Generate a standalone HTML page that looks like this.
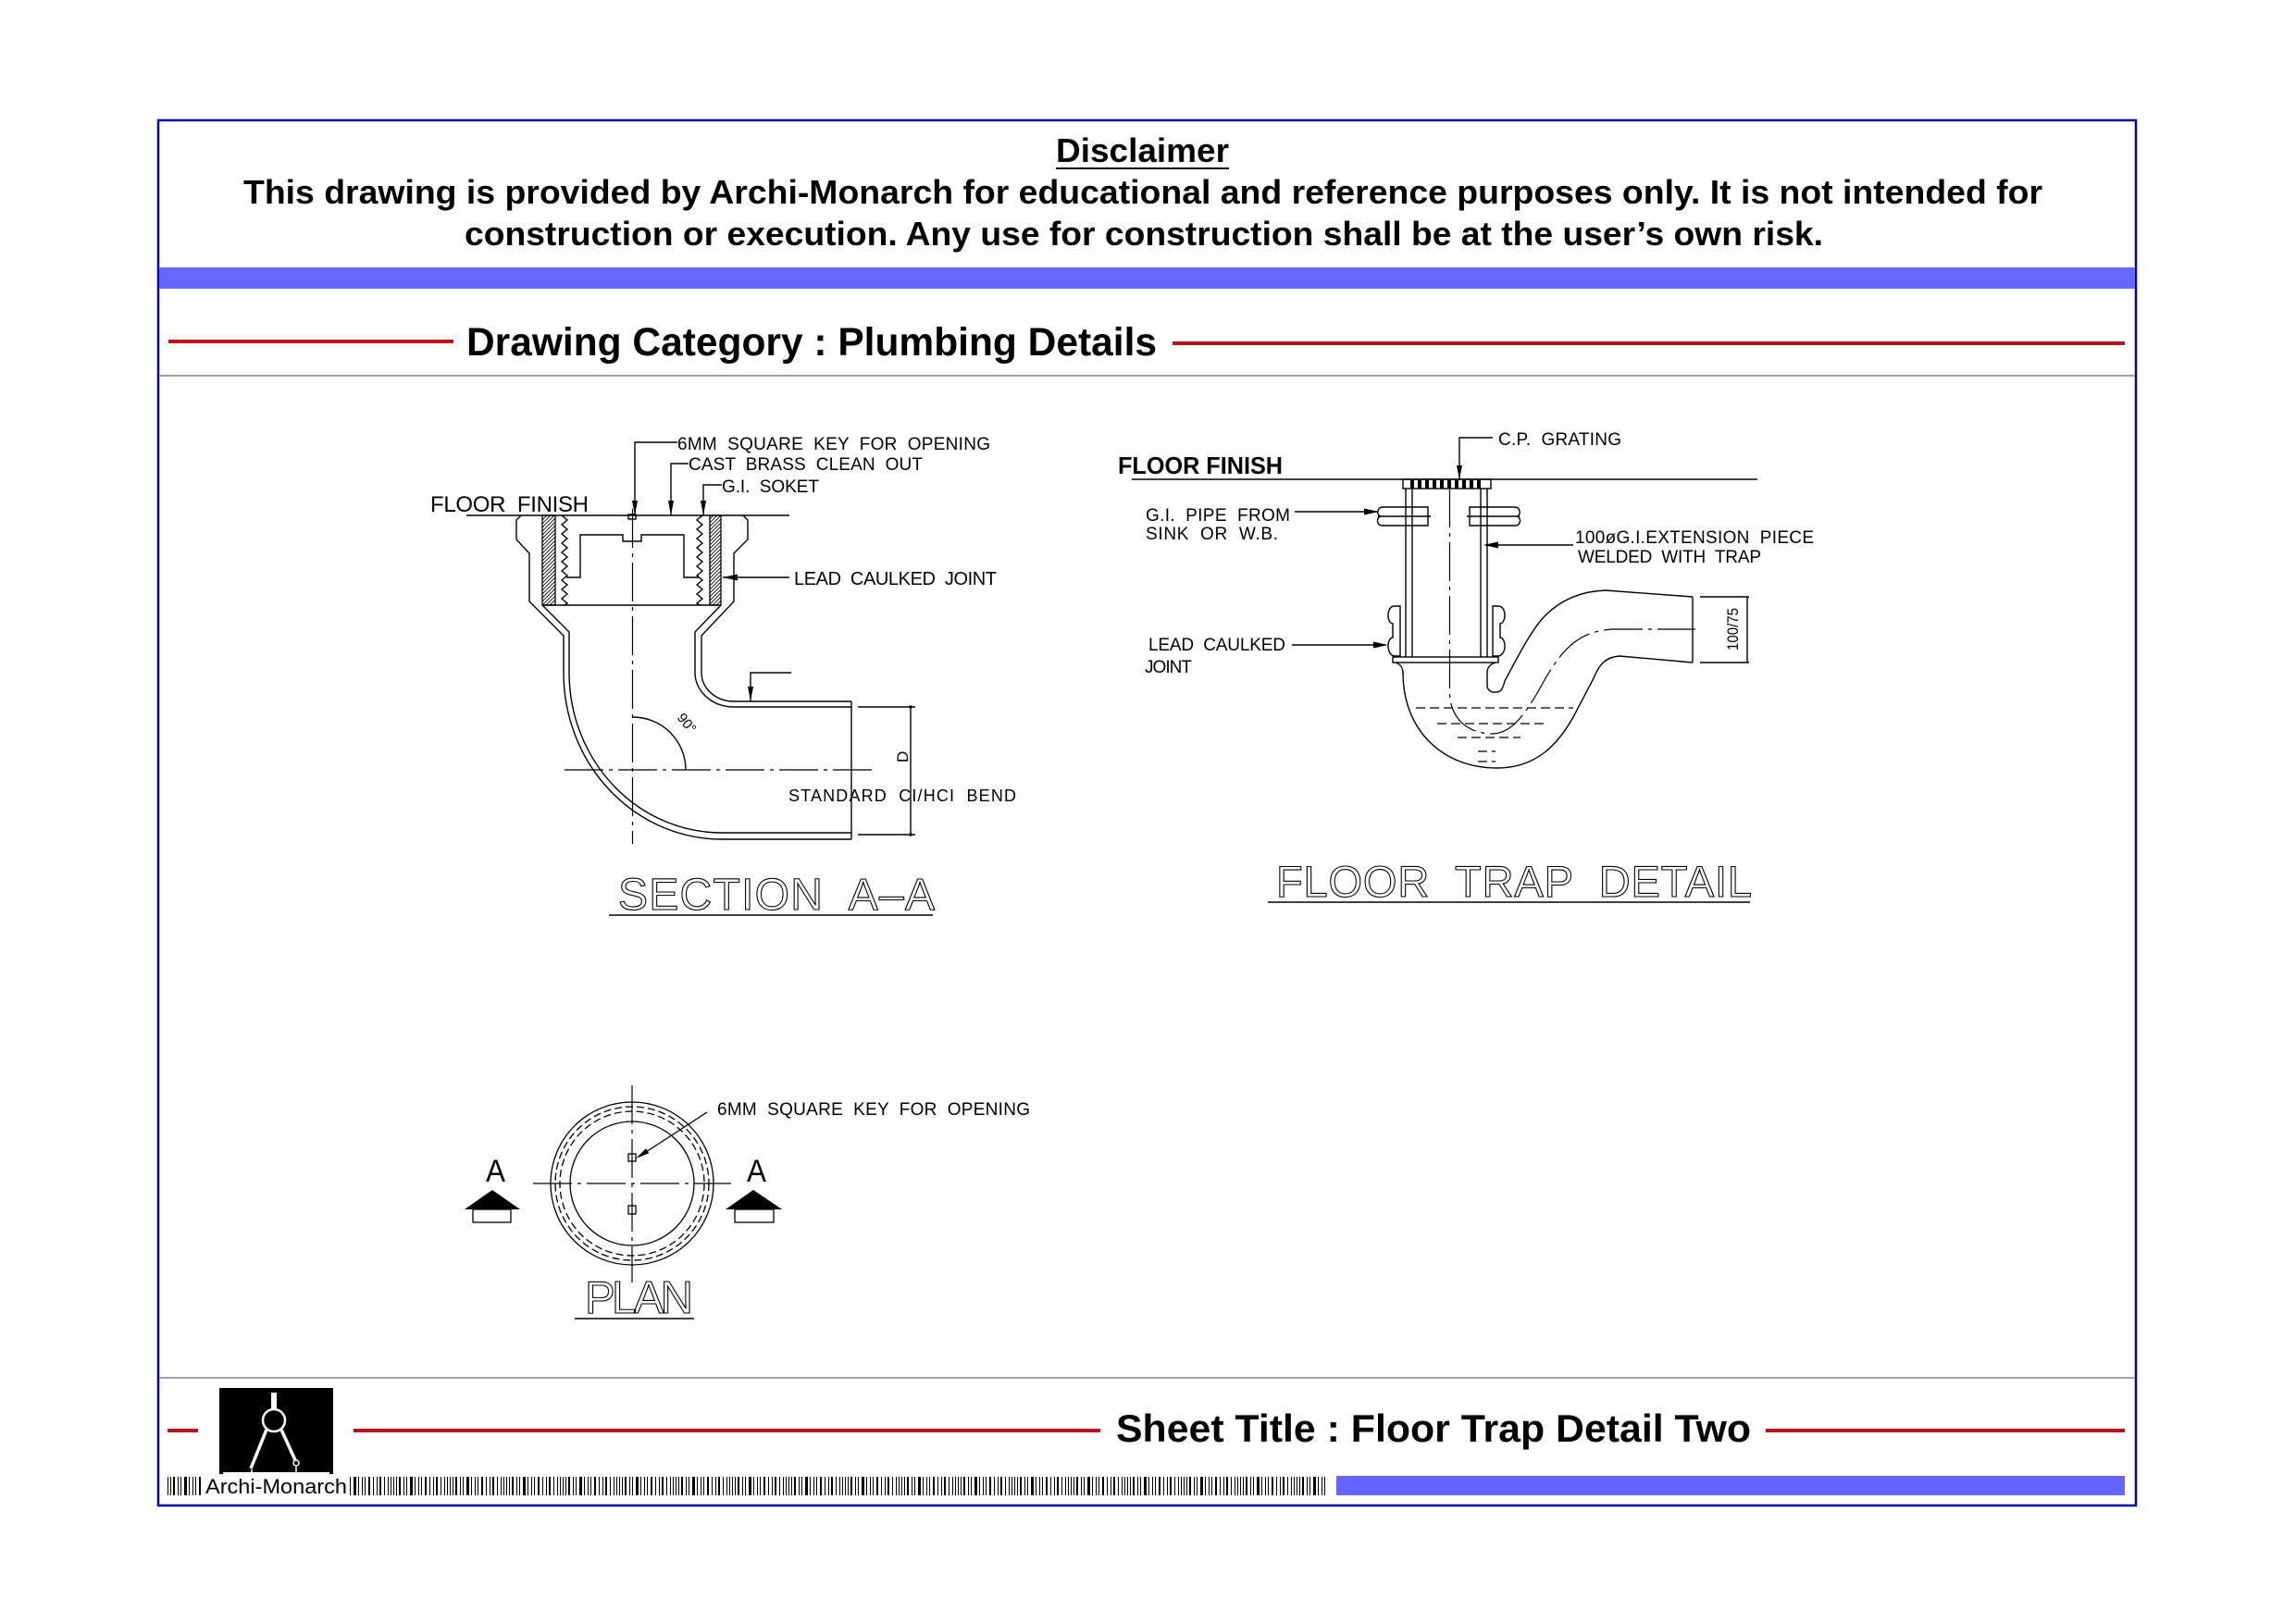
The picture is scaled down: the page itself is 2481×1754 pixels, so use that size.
<!DOCTYPE html>
<html>
<head>
<meta charset="utf-8">
<style>
html,body{margin:0;padding:0;background:#fff;}
body{width:2481px;height:1754px;overflow:hidden;}
svg{display:block;}
.b{font-family:"Liberation Sans",Arial,sans-serif;font-weight:bold;fill:#000;}
.c{font-family:"Liberation Sans",Arial,sans-serif;font-weight:normal;fill:#000;white-space:pre;}
.t{font-family:"Liberation Sans",Arial,sans-serif;font-weight:normal;fill:none;stroke:#000;stroke-width:1.1;white-space:pre;}
</style>
</head>
<body>
<svg width="2481" height="1754" viewBox="0 0 2481 1754" xmlns="http://www.w3.org/2000/svg">
<defs>
  <pattern id="hatch" patternUnits="userSpaceOnUse" width="4" height="4">
    <path d="M-1 1 L1 -1 M0 4 L4 0 M3 5 L5 3" stroke="#000" stroke-width="0.9"/>
  </pattern>
  <pattern id="bc" patternUnits="userSpaceOnUse" x="181" y="0" width="61" height="40">
    <rect x="0" y="0" width="1" height="40" fill="#000"/>
    <rect x="3" y="0" width="1" height="40" fill="#000"/>
    <rect x="6" y="0" width="2" height="40" fill="#000"/>
    <rect x="11" y="0" width="1" height="40" fill="#000"/>
    <rect x="14" y="0" width="1" height="40" fill="#000"/>
    <rect x="18" y="0" width="3" height="40" fill="#000"/>
    <rect x="23" y="0" width="1" height="40" fill="#000"/>
    <rect x="27" y="0" width="1" height="40" fill="#000"/>
    <rect x="30" y="0" width="1" height="40" fill="#000"/>
    <rect x="34" y="0" width="2" height="40" fill="#000"/>
    <rect x="39" y="0" width="1" height="40" fill="#000"/>
    <rect x="43" y="0" width="1" height="40" fill="#000"/>
    <rect x="46" y="0" width="2" height="40" fill="#000"/>
    <rect x="51" y="0" width="1" height="40" fill="#000"/>
    <rect x="55" y="0" width="1" height="40" fill="#000"/>
    <rect x="58" y="0" width="1" height="40" fill="#000"/>
  </pattern>
</defs>

<!-- Frame -->
<rect x="171" y="130" width="2137" height="1497" fill="none" stroke="#0000b0" stroke-width="2.5"/>

<!-- Disclaimer -->
<text class="b" x="1141" y="175" font-size="36" textLength="187" lengthAdjust="spacingAndGlyphs">Disclaimer</text>
<line x1="1141" y1="182" x2="1328" y2="182" stroke="#000" stroke-width="2"/>
<text class="b" x="263" y="220" font-size="36" textLength="1944" lengthAdjust="spacingAndGlyphs">This drawing is provided by Archi-Monarch for educational and reference purposes only. It is not intended for</text>
<text class="b" x="502" y="265" font-size="36" textLength="1468" lengthAdjust="spacingAndGlyphs">construction or execution. Any use for construction shall be at the user’s own risk.</text>

<!-- Blue band -->
<rect x="172" y="289" width="2135" height="23" fill="#6868ff"/>

<!-- Drawing category -->
<line x1="182" y1="369" x2="490" y2="369" stroke="#c0101a" stroke-width="4"/>
<text class="b" x="504" y="384" font-size="43" textLength="746" lengthAdjust="spacingAndGlyphs">Drawing Category : Plumbing Details</text>
<line x1="1267" y1="371" x2="2296" y2="371" stroke="#c0101a" stroke-width="4"/>
<line x1="172" y1="406" x2="2307" y2="406" stroke="#a0a0a0" stroke-width="2"/>

<!-- ================= SECTION A-A ================= -->
<g fill="none" stroke="#000" stroke-width="1.4">
  <path d="M504 557 H853"/>
  <path d="M563 557 L558 562 V583 L572 598 V650 L609 687 V727 A171 180 0 0 0 780 907 H920"/>
  <path d="M586 654 L615 683 V727 A165 173 0 0 0 780 900 H920"/>
  <path d="M803 557 L808 562 V583 L793 598 V650 L758 687 V727 A35 31 0 0 0 793 758 H920"/>
  <path d="M779 654 L751 683 V727 A42 37 0 0 0 793 764 H920"/>
  <path d="M920 758 V907"/>
  <path d="M586 654 H779"/>
  <path d="M607 557 L613 562 L607 567 L613 572 L607 577 L613 582 L607 587 L613 592 L607 597 L613 602 L607 607 L613 612 L607 617 L613 622 L607 627 L613 632 L607 637 L613 642 L607 647 L613 652 L610 654"/>
  <path d="M759 557 L753 562 L759 567 L753 572 L759 577 L753 582 L759 587 L753 592 L759 597 L753 602 L759 607 L753 612 L759 617 L753 622 L759 627 L753 632 L759 637 L753 642 L759 647 L753 652 L756 654"/>
  <path d="M612 624 H627 V578 H673 V585 H693 V578 H739 V624 H755"/>
  <rect x="679" y="556" width="8" height="5"/>
  <path d="M684 775 A57 57 0 0 1 741 832"/>
  <path d="M927 764 H989 M927 902 H989 M984 764 V902"/>
  <path d="M732 478 H686 V557 M744 501 H725 V557 M780 524 H760 V557 M853 624 H781 M855 727 H811 V758"/>
</g>
<rect x="586" y="557" width="14" height="97" fill="url(#hatch)" stroke="#000" stroke-width="1.3"/>
<rect x="767" y="557" width="12" height="97" fill="url(#hatch)" stroke="#000" stroke-width="1.3"/>
<g fill="none" stroke="#000" stroke-width="1.2" stroke-dasharray="42 6 4 6">
  <path d="M683.5 550 V912"/>
  <path d="M610 832 H948"/>
</g>
<g fill="#000">
  <polygon points="683,541 689,541 686,557"/>
  <polygon points="722,541 728,541 725,557"/>
  <polygon points="757,541 763,541 760,557"/>
  <polygon points="781,624 797,620.5 797,627.5"/>
  <polygon points="808,742 814,742 811,758"/>
  <circle cx="984" cy="764" r="1.8"/>
  <circle cx="984" cy="902" r="1.8"/>
</g>
<text class="c" x="0" y="0" font-size="15" transform="translate(731,776) rotate(50)">90°</text>
<text class="c" x="0" y="0" font-size="17" transform="translate(981,824) rotate(-90)">D</text>
<text class="c" x="732" y="486" font-size="19" textLength="338" lengthAdjust="spacing">6MM  SQUARE  KEY  FOR  OPENING</text>
<text class="c" x="744" y="508" font-size="19" textLength="253" lengthAdjust="spacing">CAST  BRASS  CLEAN  OUT</text>
<text class="c" x="780" y="532" font-size="19" textLength="105" lengthAdjust="spacing">G.I.  SOKET</text>
<text class="c" x="465" y="553" font-size="24" textLength="171" lengthAdjust="spacing">FLOOR  FINISH</text>
<text class="c" x="858" y="632" font-size="20" textLength="219" lengthAdjust="spacing">LEAD  CAULKED  JOINT</text>
<text class="c" x="852" y="866" font-size="18" textLength="246" lengthAdjust="spacing">STANDARD  CI/HCI  BEND</text>
<text class="t" x="668" y="983" font-size="48" textLength="342" lengthAdjust="spacing">SECTION  A–A</text>
<line x1="658" y1="989" x2="1008" y2="989" stroke="#000" stroke-width="1.6"/>

<!-- ================= FLOOR TRAP DETAIL ================= -->
<text class="b" x="1208" y="512" font-size="26" textLength="178" lengthAdjust="spacingAndGlyphs">FLOOR FINISH</text>
<text class="c" x="1619" y="481" font-size="19" textLength="133" lengthAdjust="spacing">C.P.  GRATING</text>
<text class="c" x="1238" y="563" font-size="19" textLength="156" lengthAdjust="spacing">G.I.  PIPE  FROM</text>
<text class="c" x="1238" y="583" font-size="19" textLength="143" lengthAdjust="spacing">SINK  OR  W.B.</text>
<text class="c" x="1702" y="587" font-size="19" textLength="258" lengthAdjust="spacing">100øG.I.EXTENSION  PIECE</text>
<text class="c" x="1705" y="608" font-size="19" textLength="198" lengthAdjust="spacing">WELDED  WITH  TRAP</text>
<text class="c" x="1241" y="703" font-size="19" textLength="148" lengthAdjust="spacing">LEAD  CAULKED</text>
<text class="c" x="1237" y="727" font-size="19" textLength="51" lengthAdjust="spacing">JOINT</text>
<text class="c" x="0" y="0" font-size="17" textLength="46" lengthAdjust="spacingAndGlyphs" transform="translate(1878,703) rotate(-90)">100/75</text>

<g fill="none" stroke="#000" stroke-width="1.4">
  <path d="M1223 518 H1899"/>
  <rect x="1516" y="518" width="95" height="10"/>
  <path d="M1613 473 H1577 V518"/>
  <path d="M1519 528 V710 M1526 528 V710 M1600 528 V710 M1607 528 V710"/>
  <path d="M1543 548 H1494 C1488 548,1487 557,1492 558 C1487 559,1487 568,1494 568 H1543 Z M1489 558 H1546"/>
  <path d="M1588 548 H1637 C1643 548,1644 557,1639 558 C1644 559,1644 568,1637 568 H1588 Z M1585 558 H1642"/>
  <path d="M1399 553 H1488 M1700 589 H1605"/>
  <path d="M1513 655 H1507 C1498 655,1498 673,1505 674 V689 C1498 690,1498 708,1507 709 H1513 Z"/>
  <path d="M1613 655 H1619 C1628 655,1628 673,1621 674 V689 C1628 690,1628 708,1619 709 H1613 Z"/>
  <path d="M1396 697 H1496"/>
  <rect x="1505" y="710" width="114" height="6"/>
  <path d="M1508 716 C1514 718,1516 722,1516 728"/>
  <path d="M1616 716 C1609 718,1607 722,1607 727"/>
  <path d="M1516 727 C1516 790,1560 830,1617 830 C1660 830,1683 805,1700 775 L1722 733 C1728 718,1735 710,1750 709 L1829 716"/>
  <path d="M1607 727 V741 C1607 746,1612 749,1617 748 C1622 748,1624 744,1626 736 C1640 710,1655 680,1670 665 C1685 650,1705 639,1735 638 L1829 645"/>
  <path d="M1829 645 V716"/>
  <path d="M1837 645 H1890 M1837 716 H1890 M1888 645 V716"/>
</g>
<g fill="#000">
  <rect x="1524" y="519" width="4" height="9"/>
  <rect x="1532" y="519" width="4" height="9"/>
  <rect x="1540" y="519" width="4" height="9"/>
  <rect x="1548" y="519" width="4" height="9"/>
  <rect x="1556" y="519" width="4" height="9"/>
  <rect x="1564" y="519" width="4" height="9"/>
  <rect x="1572" y="519" width="4" height="9"/>
  <rect x="1580" y="519" width="4" height="9"/>
  <rect x="1588" y="519" width="4" height="9"/>
  <rect x="1596" y="519" width="4" height="9"/>
  <polygon points="1574,503 1580,503 1577,518"/>
  <polygon points="1490,553 1474,549.5 1474,556.5"/>
  <polygon points="1603,589 1619,585.5 1619,592.5"/>
  <polygon points="1500,697 1484,693.5 1484,700.5"/>
</g>
<g fill="none" stroke="#000" stroke-width="1.2">
  <path stroke-dasharray="42 6 4 6" d="M1566.5 528 V747 C1566 775,1585 793,1613 793 C1635 792,1650 770,1670 733 C1690 700,1705 683,1742 680 H1832"/>
  <path stroke-dasharray="10 5" d="M1530 765 H1700 M1553 782 H1673 M1575 797 H1643 M1597 812 H1616 M1597 823 H1616"/>
</g>
<text class="t" x="1379" y="969" font-size="47" textLength="514" lengthAdjust="spacing">FLOOR  TRAP  DETAIL</text>
<line x1="1370" y1="975" x2="1891" y2="975" stroke="#000" stroke-width="1.6"/>

<!-- ================= PLAN ================= -->
<g fill="none" stroke="#000" stroke-width="1.3">
  <circle cx="683" cy="1279" r="88"/>
  <circle cx="683" cy="1279" r="83" stroke-dasharray="8 4"/>
  <circle cx="683" cy="1279" r="78" stroke-dasharray="8 4"/>
  <circle cx="683" cy="1279" r="67"/>
  <rect x="679" y="1247" width="8" height="8"/>
  <rect x="679" y="1303" width="8" height="9"/>
  <path d="M764 1202 L698 1245"/>
  <rect x="511" y="1307" width="41" height="14"/>
  <rect x="794" y="1307" width="42" height="14"/>
</g>
<g fill="none" stroke="#000" stroke-width="1.2" stroke-dasharray="42 6 4 6">
  <path d="M683 1173 V1386"/>
  <path d="M576 1279 H790"/>
</g>
<g fill="#000">
  <polygon points="687,1252 701.2,1246.3 698,1241.3"/>
  <polygon points="502,1307 532,1286 562,1307"/>
  <polygon points="784,1307 814,1286 845,1307"/>
</g>
<text class="c" x="775" y="1205" font-size="19" textLength="338" lengthAdjust="spacing">6MM  SQUARE  KEY  FOR  OPENING</text>
<text class="c" x="525" y="1277" font-size="34" textLength="21" lengthAdjust="spacingAndGlyphs">A</text>
<text class="c" x="807" y="1277" font-size="34" textLength="21" lengthAdjust="spacingAndGlyphs">A</text>
<text class="t" x="632" y="1419" font-size="49" textLength="117" lengthAdjust="spacing">PLAN</text>
<line x1="621" y1="1425" x2="750" y2="1425" stroke="#000" stroke-width="1.6"/>

<!-- ================= FOOTER ================= -->
<line x1="172" y1="1489" x2="2307" y2="1489" stroke="#a0a0a0" stroke-width="2"/>
<line x1="181" y1="1546" x2="214" y2="1546" stroke="#c0101a" stroke-width="4"/>
<line x1="382" y1="1546" x2="1189" y2="1546" stroke="#c0101a" stroke-width="4"/>
<line x1="1908" y1="1546" x2="2296" y2="1546" stroke="#c0101a" stroke-width="4"/>
<text class="b" x="1206" y="1558" font-size="42" textLength="686" lengthAdjust="spacingAndGlyphs">Sheet Title : Floor Trap Detail Two</text>

<rect x="237" y="1500" width="123" height="93" fill="#000"/>
<g stroke="#fff" fill="none">
  <rect x="293" y="1505" width="6" height="17" fill="#fff" stroke="none"/>
  <circle cx="296" cy="1535" r="12" stroke-width="2.5"/>
  <path d="M288 1545 L271 1587" stroke-width="3.5"/>
  <path d="M304 1545 L319 1578" stroke-width="3.5"/>
  <circle cx="320" cy="1581" r="3" stroke-width="1.5"/>
  <path d="M241 1592 H356" stroke-width="2"/>
  <path d="M272 1588 V1592 M320 1585 V1592" stroke-width="1.5"/>
</g>

<rect x="181" y="1596" width="1254" height="20" fill="url(#bc)"/>
<rect x="219" y="1594" width="159" height="24" fill="#fff"/>
<text class="c" x="222" y="1614" font-size="22" textLength="153" lengthAdjust="spacingAndGlyphs">Archi-Monarch</text>
<rect x="1444" y="1595" width="852" height="21" fill="#6666ff"/>
</svg>
</body>
</html>
